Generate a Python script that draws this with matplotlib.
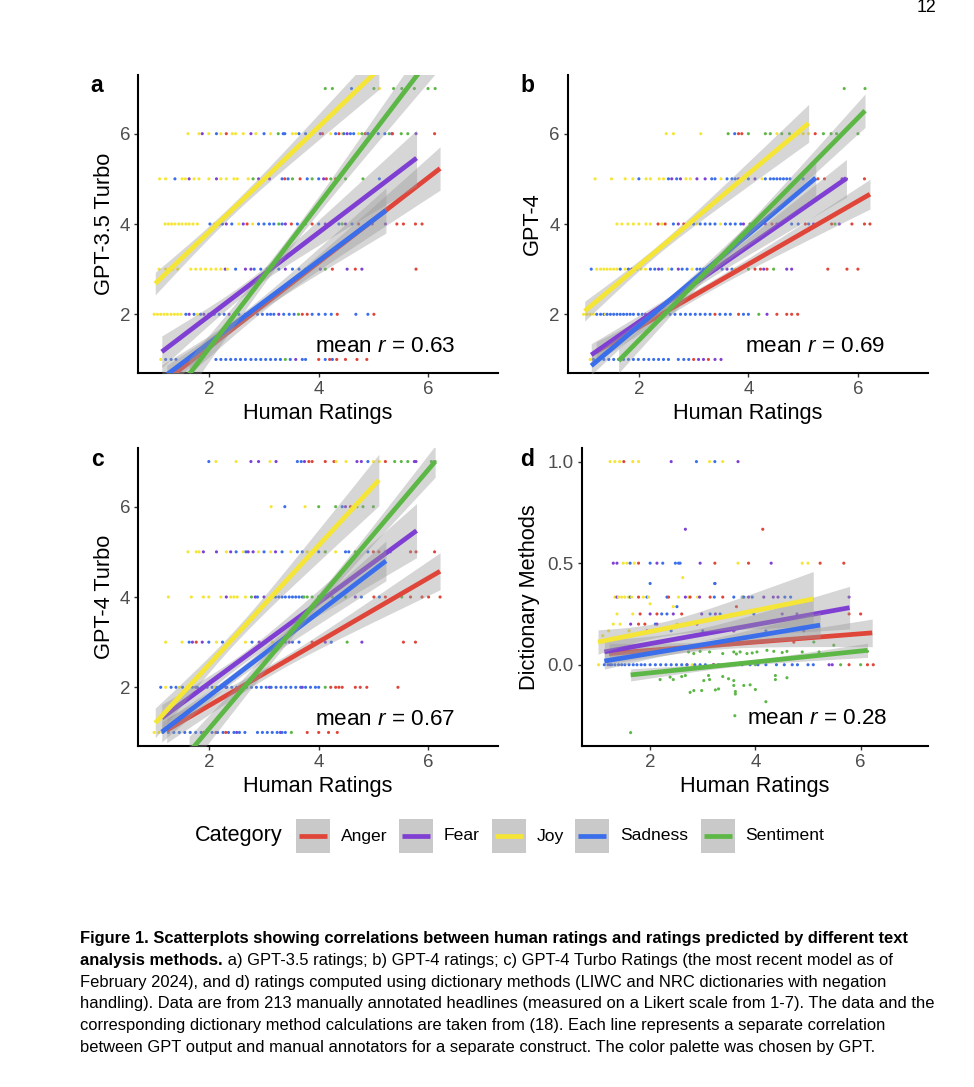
import numpy as np
import matplotlib
matplotlib.use('Agg')
import matplotlib.pyplot as plt
from matplotlib.patches import Rectangle
from matplotlib.lines import Line2D

plt.rcParams['font.family'] = ['Liberation Sans', 'DejaVu Sans']
plt.rcParams['mathtext.fontset'] = 'custom'
plt.rcParams['mathtext.rm'] = 'Liberation Sans'
plt.rcParams['mathtext.it'] = 'Liberation Sans:italic'

categories = ['Anger', 'Fear', 'Joy', 'Sadness', 'Sentiment']
colors = ['#E0453A', '#7F3FD3', '#F5E536', '#3A6EEB', '#5DB746']

# x range of each fitted line (same in every panel)
fit_x0 = [1.22, 1.13, 1.01, 1.13, 1.63]
fit_x1 = [6.22, 5.79, 5.10, 5.23, 6.13]

# fitted lines + CI half widths (start, end, narrowest)
a_fit_y0 = [0.55, 1.17, 2.68, 0.58, 0.67]
a_fit_y1 = [5.23, 5.46, 7.43, 4.30, 7.82]
a_ci = [(0.32, 0.48, 0.12), (0.35, 0.62, 0.13), (0.25, 0.45, 0.12), (0.30, 0.50, 0.12), (0.35, 0.50, 0.15)]

b_fit_y0 = [1.17, 1.10, 2.07, 0.86, 0.97]
b_fit_y1 = [4.66, 5.01, 6.23, 5.02, 6.51]
b_ci = [(0.22, 0.33, 0.10), (0.25, 0.42, 0.10), (0.22, 0.42, 0.10), (0.20, 0.40, 0.09), (0.27, 0.37, 0.12)]

c_fit_y0 = [1.05, 1.32, 1.21, 1.01, 0.56]
c_fit_y1 = [4.57, 5.47, 6.59, 4.80, 7.00]
c_ci = [(0.28, 0.41, 0.12), (0.30, 0.60, 0.12), (0.33, 0.57, 0.15), (0.22, 0.44, 0.10), (0.35, 0.35, 0.13)]

d_fit_y0 = [0.055, 0.063, 0.112, 0.018, -0.050]
d_fit_y1 = [0.157, 0.281, 0.324, 0.195, 0.071]
d_ci = [(0.05, 0.068, 0.02), (0.058, 0.105, 0.03), (0.06, 0.135, 0.035), (0.04, 0.062, 0.02), (0.03, 0.035, 0.012)]

# scatter points: {model rating: [human ratings]}
a_anger = {6: [2.31, 4.07, 4.37, 4.85, 5.35, 6.12], 5: [3.38, 3.66, 4.14, 4.31],
           4: [2.69, 3.5, 3.88, 4.73, 5.43, 5.55, 5.77, 5.89], 3: [4.25, 4.67, 5.78],
           2: [3.7, 3.79, 4.34, 5.01], 1: [4.0, 4.2, 4.33, 4.49, 4.70, 4.88]}
a_fear = {6: [1.87, 2.76, 4.03, 4.52, 4.9, 5.34, 5.78], 5: [1.63, 2.13, 2.9, 3.1, 4.09],
          4: [2.18, 2.31, 2.62, 3.39, 4.12, 4.22, 4.49, 4.98, 5.22],
          3: [2.29, 2.66, 2.76, 3.06, 3.39, 4.03, 4.52, 4.79], 2: [1.63, 1.9, 2.36, 2.79, 3.27], 1: [3.58]}
a_joy = {7: [5.11], 6: [1.61, 1.81, 1.99, 2.21, 2.42, 2.48, 2.62, 2.85, 3.12, 3.52, 3.58, 3.88, 4.22, 4.43, 4.73],
         5: [1.09, 1.2, 1.5, 1.56, 1.72, 1.81, 1.99, 2.21, 2.31, 2.45, 2.51, 2.71],
         4: [1.19, 1.25, 1.31, 1.37, 1.44, 1.5, 1.57, 1.63, 1.70, 1.78, 2.09, 2.54, 2.79],
         3: [1.08, 1.2, 1.33, 1.42, 1.66, 1.75, 1.84, 1.93, 2.03, 2.12, 2.21, 2.33],
         2: [0.99, 1.05, 1.11, 1.17, 1.23, 1.3, 1.36, 1.42, 1.48, 1.78], 1: [1.11]}
a_sadness = {7: [4.6], 6: [2.13, 3.0, 3.35, 3.38, 3.64, 3.76, 4.31, 4.46, 4.58, 4.64, 4.9, 5.09, 5.21],
             5: [1.37, 3.33, 3.44, 3.79, 4.0, 5.11],
             4: [2.01, 2.24, 2.41, 2.9, 3.0, 3.1, 3.18, 3.33, 3.61, 4.0, 4.37, 4.61],
             3: [2.48, 2.82, 2.94, 3.27, 3.52, 3.64],
             2: [1.57, 1.72, 1.84, 1.99, 2.09, 2.18, 2.27, 2.45, 2.54, 2.66, 2.88, 2.97, 3.06, 3.12,
                 3.18, 3.36, 3.46, 3.55, 3.88, 4.0, 4.12, 4.23, 4.68, 4.9],
             1: [1.2, 1.3, 1.39, 2.12, 2.21, 2.3, 2.39, 2.48, 2.57, 2.66, 2.76, 2.85, 2.94, 3.03,
                 3.12, 3.21, 3.3, 3.48, 3.7, 3.76, 4.12, 4.25]}
a_sentiment = {7: [4.12, 4.25, 5.01, 5.37, 5.52, 5.75, 6.0, 6.13], 6: [3.26, 4.79, 5.29, 5.51, 5.63],
               5: [2.8, 3.52, 3.88, 4.22, 4.37, 4.49, 4.81], 4: [3.27, 3.76, 4.43],
               3: [3.15, 3.76, 4.12], 2: [3.63], 1: [3.39]}

b_anger = {6: [3.82, 3.88, 5.22], 5: [4.91, 5.27, 5.39, 6.12],
           4: [2.35, 2.48, 2.82, 4.43, 5.04, 5.52, 5.89, 6.12, 6.22],
           3: [4.12, 4.22, 4.34, 5.45, 5.8, 6.0], 2: [3.39, 3.82, 4.52, 4.70, 4.79, 4.9], 1: [3.0, 3.27]}
b_fear = {5: [2.6, 2.76, 3.06, 3.21, 3.82, 4.12, 5.71, 5.79], 4: [2.72, 3.91, 4.09, 4.31, 4.52, 5.19, 5.66],
          3: [1.87, 2.36, 2.72, 3.61, 4.28, 4.70, 4.79], 2: [2.12, 2.21, 4.34], 1: [3.09, 3.18, 3.39, 3.5]}
b_joy = {6: [2.5, 2.63, 3.13, 4.52, 4.91, 5.0, 5.1],
         5: [1.2, 1.5, 1.75, 1.89, 2.13, 2.21, 2.37, 2.45, 2.86, 2.94, 3.5, 4.25],
         4: [1.6, 1.69, 1.80, 1.90, 2.0, 2.13, 2.21, 2.42, 3.06, 3.49],
         3: [1.23, 1.3, 1.36, 1.42, 1.48, 1.54, 1.6, 1.75, 2.04, 2.12, 2.54, 2.97, 3.27, 3.76],
         2: [0.99, 1.05, 1.11, 1.17, 1.39], 1: [1.11]}
b_sadness = {6: [3.75],
             5: [2.0, 2.54, 2.69, 3.33, 3.39, 3.61, 3.7, 3.76, 3.91, 4.0, 4.31, 4.4, 4.46, 4.52, 4.58,
                 4.64, 4.7, 4.76, 4.9, 5.0, 5.19],
             4: [2.63, 3.0, 3.12, 3.21, 3.3, 3.39, 3.58, 3.67, 3.76, 3.86, 4.23, 4.79, 4.91, 5.1],
             3: [1.13, 1.66, 1.81, 1.96, 2.21, 2.29, 2.42, 2.6, 2.79, 2.88, 3.06, 3.12, 3.18, 3.33,
                 3.42, 3.52, 3.7, 3.85],
             2: [1.23, 1.3, 1.36, 1.42, 1.48, 1.54, 1.6, 1.66, 1.72, 1.78, 1.84, 1.9, 1.99, 2.06, 2.3,
                 2.39, 2.57, 2.66, 2.76, 2.85, 2.94, 3.03, 3.12, 3.21, 3.3, 3.48, 3.58, 3.67, 3.91, 4.0],
             1: [1.17, 1.28, 1.36, 1.45, 1.54, 1.63, 1.72, 1.81, 1.9, 1.99, 2.09, 2.18, 2.27, 2.36,
                 2.45, 2.54, 2.72, 2.82, 2.91]}
b_sentiment = {7: [5.75, 6.13], 6: [3.63, 4.0, 4.31, 4.4, 4.61, 4.75, 5.37, 5.51, 5.61, 6.0],
               4: [4.03, 4.61, 5.58], 3: [4.0, 4.46], 2: [4.19]}

c_anger = {7: [3.82, 3.88, 4.12, 4.28, 5.22], 6: [4.58], 5: [5.0, 5.1, 5.68, 5.78, 6.12],
           4: [5.01, 5.22, 5.68, 5.89, 6.01, 6.22], 3: [1.76, 3.88, 5.55, 5.77],
           2: [2.6, 4.22, 4.31, 4.37, 4.43, 4.67, 4.76, 4.88, 5.45],
           1: [1.9, 2.12, 2.3, 3.79, 4.0, 4.18, 4.34]}
c_fear = {7: [2.76, 2.9, 3.22, 3.74, 4.7, 4.78, 5.75, 5.78], 6: [4.49],
          5: [1.89, 2.13, 2.39, 2.71, 2.8, 3.21, 5.22], 4: [2.31, 2.84, 3.0, 4.67],
          3: [1.69, 1.87, 2.91, 3.46, 4.12, 4.79], 2: [1.75, 2.3, 3.1, 3.7], 1: [2.5, 3.3]}
c_joy = {7: [2.12, 2.49, 3.11, 4.32, 4.5, 5.0, 5.11], 6: [3.13, 3.75],
         5: [1.61, 1.76, 1.81, 2.31, 2.62, 2.9, 3.12, 3.49, 3.79, 4.31],
         4: [1.25, 1.67, 1.89, 1.99, 2.21, 2.39, 2.45, 2.51, 2.66, 3.12],
         3: [1.2, 1.5, 2.13, 2.66, 3.15], 2: [1.2, 1.45, 2.1], 1: [0.99, 1.08]}
c_sadness = {7: [1.99, 3.61, 3.68, 4.9], 6: [3.38, 4.43],
             5: [2.49, 2.67, 3.0, 3.33, 3.61, 3.7, 4.0, 4.49, 4.55, 4.9, 5.31],
             4: [2.88, 3.21, 3.27, 3.33, 3.39, 3.46, 3.52, 3.58, 3.64, 3.7, 4.0, 4.12, 4.34, 4.78, 5.11],
             3: [1.63, 1.99, 2.24, 2.78, 3.03, 3.27, 3.33, 3.39, 3.52, 3.64, 4.0, 4.23],
             2: [1.11, 1.3, 1.39, 1.51, 1.6, 1.69, 1.78, 1.87, 1.96, 2.05, 2.14, 2.23, 2.32, 2.41, 2.5,
                 2.59, 2.68, 2.77, 2.86, 2.95, 3.04, 3.13, 3.22, 3.31, 3.4, 3.49, 3.58, 3.67, 3.76, 3.85,
                 3.94, 4.0],
             1: [1.15, 1.25, 1.35, 1.45, 1.55, 1.65, 1.75, 1.85, 1.95, 2.05, 2.15, 2.25, 2.35, 2.45,
                 2.55, 2.65, 2.88, 2.97, 3.06, 3.15, 3.24, 3.33, 3.39]}
c_sentiment = {7: [5.39, 5.51, 5.63, 6.06, 6.13], 6: [4.0, 4.31, 4.7, 4.81, 5.0], 5: [4.12, 4.67],
               4: [2.77, 3.73, 3.79, 3.88, 4.0, 4.25, 4.49, 5.52], 3: [4.52], 2: [4.12], 1: [3.5]}

d_anger = {1.0: [1.5], 0.667: [4.14], 0.5: [1.78, 3.23, 3.87, 5.23, 5.68],
           0.333: [1.78, 2.35, 2.76, 3.14, 3.38], 0.286: [3.64], 0.25: [1.81, 2.13, 2.60, 5.78, 6.0],
           0.2: [1.78, 1.9], 0.167: [3.59], 0.111: [4.73], 0.0: [2.7, 3.21, 5.78, 6.13, 6.24]}
d_fear = {1.0: [2.40, 3.67], 0.667: [2.67], 0.5: [1.30, 1.37, 2.13, 2.95, 4.30], 0.4: [3.23],
          0.333: [1.37, 2.67, 2.94, 3.87, 4.16, 4.34, 4.43, 5.78], 0.25: [2.0, 2.44, 2.98, 3.24, 4.51, 4.79],
          0.2: [1.63, 2.13, 2.89], 0.167: [1.94, 3.59, 4.92], 0.0: [1.24, 5.40, 5.46]}
d_joy = {1.0: [1.24, 1.33, 1.42, 1.67, 1.78, 3.13, 3.38], 0.5: [1.49, 1.56, 1.70, 3.67, 4.89, 5.0],
         0.429: [2.62], 0.333: [1.33, 1.40, 1.46, 1.52, 1.59, 1.65, 1.87, 1.97, 2.54, 2.73, 2.90, 3.76],
         0.3: [2.0], 0.286: [2.44], 0.25: [1.37, 1.67], 0.2: [1.30, 1.43, 2.51], 0.167: [1.21, 1.60],
         0.143: [1.10], 0.0: [1.02, 2.8, 3.4]}
d_sadness = {1.0: [2.88, 3.23], 0.5: [1.62, 2.0, 2.24, 2.48, 2.54, 2.57], 0.4: [2.0, 3.23],
             0.333: [1.62, 1.94, 2.32, 3.22, 3.59, 3.75, 3.78, 3.94, 4.56, 4.67], 0.286: [2.51],
             0.25: [2.22, 2.32, 3.14, 3.33, 3.97], 0.2: [2.10, 2.7], 0.167: [2.4, 3.0, 4.2],
             0.0: [1.13, 1.2, 1.27, 1.33, 1.4, 1.46, 1.52, 1.6, 1.68, 1.75, 1.83, 1.9, 2.0, 2.1, 2.2,
                   2.3, 2.4, 2.5, 2.6, 2.7, 2.85, 2.95, 3.05, 3.2, 3.3, 3.45, 3.6, 3.75, 3.9, 4.05, 4.2,
                   4.4, 4.55, 4.7, 4.8, 5.0, 5.1]}
d_sentiment_x = [2.19, 2.38, 2.44, 2.60, 2.67, 2.76, 2.83, 2.98, 3.02, 3.11, 3.13, 3.24, 3.30, 3.38,
                 3.49, 3.59, 3.59, 3.62, 3.62, 3.78, 3.90, 4.0, 4.20, 4.38, 4.38, 4.60, 3.61, 1.63,
                 2.73, 2.83, 2.95, 3.13, 3.38, 3.59, 3.64, 3.71, 3.84, 3.94, 4.03, 4.22, 4.35, 4.51,
                 4.60, 4.89, 5.11, 5.21, 5.49, 6.13, 5.62, 6.0, 4.0]
d_sentiment_y = [-0.073, -0.061, -0.073, -0.058, -0.053, -0.136, -0.127, -0.127, -0.078, -0.053,
                 -0.073, -0.124, -0.119, -0.058, -0.069, -0.078, -0.102, -0.132, -0.144, -0.102,
                 -0.099, -0.122, -0.182, -0.053, -0.073, -0.064, -0.251, -0.334,
                 0.063, 0.055, 0.066, 0.063, 0.055, 0.063, 0.053, 0.063, 0.055, 0.058, 0.063, 0.071,
                 0.066, 0.060, 0.066, 0.063, 0.112, 0.063, 0.096, 0.066, 0.0, 0.0, 0.0]

mean_r = ['0.63', '0.69', '0.67', '0.28']
y_titles = ['GPT-3.5 Turbo', 'GPT-4', 'GPT-4 Turbo', 'Dictionary Methods']
caption = [
    ('Figure 1. Scatterplots showing correlations between human ratings and ratings predicted by different text', ''),
    ('analysis methods.', ' a) GPT-3.5 ratings; b) GPT-4 ratings; c) GPT-4 Turbo Ratings (the most recent model as of'),
    ('', 'February 2024), and d) ratings computed using dictionary methods (LIWC and NRC dictionaries with negation'),
    ('', 'handling). Data are from 213 manually annotated headlines (measured on a Likert scale from 1-7). The data and the'),
    ('', 'corresponding dictionary method calculations are taken from (18). Each line represents a separate correlation'),
    ('', 'between GPT output and manual annotators for a separate construct. The color palette was chosen by GPT.'),
]

W, H = 974, 1087


def fx(px):
    return px / W


def fy(py):
    return 1 - py / H


def expand(rows):
    xs, ys = [], []
    for yv, xl in rows.items():
        xs += xl
        ys += [yv] * len(xl)
    return xs, ys


def ci_width(xs, x0, x1, h0, h1, m):
    u = np.sqrt(max(h0 ** 2 - m ** 2, 1e-9))
    v = np.sqrt(max(h1 ** 2 - m ** 2, 1e-9))
    c = (x0 * v + x1 * u) / (u + v)
    k = ((u + v) / (x1 - x0)) ** 2
    return np.sqrt(m ** 2 + k * (xs - c) ** 2)


fig = plt.figure(figsize=(W / 100, H / 100), dpi=100)

panels = [
    ([138.3, 75, 498, 373], [a_anger, a_fear, a_joy, a_sadness, a_sentiment], a_fit_y0, a_fit_y1, a_ci, 'a', 97),
    ([567.7, 75, 928, 373], [b_anger, b_fear, b_joy, b_sadness, b_sentiment], b_fit_y0, b_fit_y1, b_ci, 'b', 527),
    ([138.3, 448, 498, 746], [c_anger, c_fear, c_joy, c_sadness, c_sentiment], c_fit_y0, c_fit_y1, c_ci, 'c', 97),
    ([581.7, 448, 928, 746], [d_anger, d_fear, d_joy, d_sadness, None], d_fit_y0, d_fit_y1, d_ci, 'd', 527),
]

for i, (box, pts, y0s, y1s, cis, tag, tag_x) in enumerate(panels):
    l, t, r, b = box
    ax = fig.add_axes([fx(l), fy(b), (r - l) / W, (b - t) / H])
    px, py, pc = [], [], []
    for j, rows in enumerate(pts):
        if rows is None:
            xs, ys = d_sentiment_x, d_sentiment_y
        else:
            xs, ys = expand(rows)
        px += xs
        py += ys
        pc += [colors[j]] * len(xs)
    order = np.argsort(px, kind='stable')
    ax.scatter(np.array(px)[order], np.array(py)[order], s=5, c=np.array(pc)[order],
               linewidths=0, zorder=2)

    for j in range(5):
        xs = np.linspace(fit_x0[j], fit_x1[j], 80)
        ys = y0s[j] + (y1s[j] - y0s[j]) * (xs - fit_x0[j]) / (fit_x1[j] - fit_x0[j])
        hw = ci_width(xs, fit_x0[j], fit_x1[j], *cis[j])
        ax.fill_between(xs, ys - hw, ys + hw, color='#999999', alpha=0.4, linewidth=0, zorder=3 + j)
        ax.plot(xs, ys, color=colors[j], lw=3.4, solid_capstyle='butt', zorder=3 + j)

    ax.set_xlim(0.70, 7.28)
    if tag == 'd':
        ax.set_ylim(-0.4, 1.067)
        ax.set_yticks([0.0, 0.5, 1.0])
        ax.set_yticklabels(['0.0', '0.5', '1.0'])
        ax.text(5.18, -0.264, 'mean $r$ = ' + mean_r[i], ha='center', va='center', fontsize=16.2, zorder=10)
    else:
        ax.set_ylim(0.7, 7.3)
        ax.set_yticks([2, 4, 6])
        ax.text(5.22, 1.29, 'mean $r$ = ' + mean_r[i], ha='center', va='center', fontsize=16.2, zorder=10)
    ax.set_xticks([2, 4, 6])

    for s in ['top', 'right']:
        ax.spines[s].set_visible(False)
    for s in ['left', 'bottom']:
        ax.spines[s].set_linewidth(1.5)
        ax.spines[s].set_color('black')
    ax.tick_params(length=3.2, width=1.0, color='#333333', labelcolor='#4D4D4D',
                   labelsize=13.5, pad=2.5)

    ax.set_xlabel('Human Ratings', fontsize=15.7)
    ax.set_ylabel(y_titles[i], fontsize=15.7)
    ax.xaxis.set_label_coords(0.5, -0.102)
    ylab_x = {'a': -0.066, 'b': -0.068, 'c': -0.066, 'd': -0.12}[tag]
    ax.yaxis.set_label_coords(ylab_x, 0.5)

    fig.text(fx(tag_x), fy(t + 11), tag, fontsize=16.5, fontweight='bold', ha='center', va='center')

# legend
fig.text(fx(195), fy(836), 'Category', fontsize=15.6, ha='left', va='center')
key_left = [296, 399, 492, 575, 701]
label_left = [341, 444, 537, 620, 745]
for j, name in enumerate(categories):
    kx = key_left[j]
    fig.add_artist(Rectangle((fx(kx), fy(853)), 34 / W, 34 / H, transform=fig.transFigure,
                             facecolor='#C9C9C9', edgecolor='none'))
    fig.add_artist(Line2D([fx(kx + 3), fx(kx + 31)], [fy(836), fy(836)], transform=fig.transFigure,
                          color=colors[j], lw=3.4, solid_capstyle='butt'))
    fig.text(fx(label_left[j]), fy(836), name, fontsize=12.6, ha='left', va='center')

# page number
fig.text(fx(936), fy(8), '12', fontsize=12.8, ha='right', va='center')

# caption
renderer = fig.canvas.get_renderer()
line_y = [938, 960, 981.7, 1003.3, 1025, 1046.7]
for (bold, normal), yy in zip(caption, line_y):
    x = fx(80)
    if bold:
        tb = fig.text(x, fy(yy + 5), bold, fontsize=11.9, fontweight='bold', ha='left', va='baseline')
        x = tb.get_window_extent(renderer).x1 / W
    if normal:
        fig.text(x, fy(yy + 5), normal, fontsize=11.9, ha='left', va='baseline')

fig.savefig('out.png', dpi=100)
